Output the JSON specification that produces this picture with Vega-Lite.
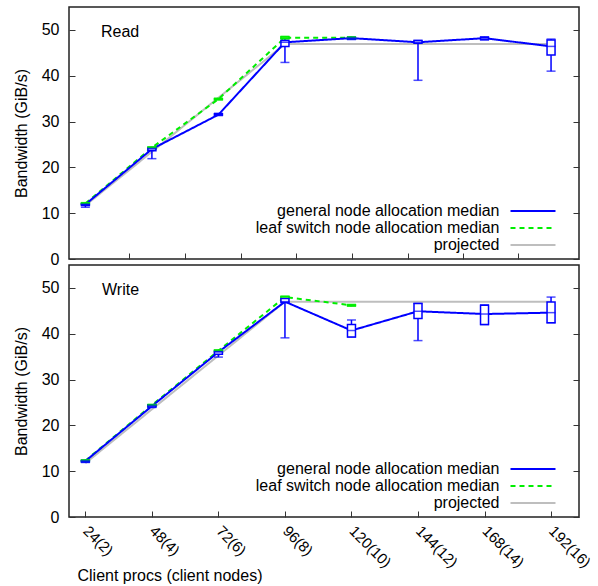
{
  "$schema": "https://vega.github.io/schema/vega-lite/v6.json",
  "padding": {"left": 12, "top": 6, "right": 2, "bottom": 2},
  "autosize": {"type": "pad"},
  "bounds": "flush",
  "spacing": 6,
  "config": {
    "font": "Liberation Sans",
    "view": {"stroke": "#222", "strokeWidth": 1.5},
    "axis": {"labelFontSize": 16, "titleFontSize": 16, "titleFontWeight": "normal", "labelColor": "#000", "titleColor": "#000", "tickColor": "#333", "domain": false, "grid": false, "labelFlush": false, "labelOverlap": false, "labelBound": false}
  },
  "datasets": {
    "rows": [
      {"p": "Read", "s": "projected", "x": 0, "med": 11.7},
      {"p": "Read", "s": "projected", "x": 1, "med": 23.4},
      {"p": "Read", "s": "projected", "x": 2, "med": 35.2},
      {"p": "Read", "s": "projected", "x": 3, "med": 46.9},
      {"p": "Read", "s": "projected", "x": 4, "med": 46.9},
      {"p": "Read", "s": "projected", "x": 5, "med": 46.9},
      {"p": "Read", "s": "projected", "x": 6, "med": 46.9},
      {"p": "Read", "s": "projected", "x": 7, "med": 46.9},
      {"p": "Read", "s": "leaf switch node allocation median", "x": 0, "lo": 11.9, "q1": 12.0, "med": 12.1, "q3": 12.2, "hi": 12.3},
      {"p": "Read", "s": "leaf switch node allocation median", "x": 1, "lo": 24.0, "q1": 24.1, "med": 24.3, "q3": 24.4, "hi": 24.5},
      {"p": "Read", "s": "leaf switch node allocation median", "x": 2, "lo": 34.7, "q1": 34.8, "med": 34.9, "q3": 35.0, "hi": 35.1},
      {"p": "Read", "s": "leaf switch node allocation median", "x": 3, "lo": 48.0, "q1": 48.1, "med": 48.3, "q3": 48.5, "hi": 48.6},
      {"p": "Read", "s": "leaf switch node allocation median", "x": 4, "lo": 48.0, "q1": 48.1, "med": 48.3, "q3": 48.4, "hi": 48.5},
      {"p": "Read", "s": "general node allocation median", "x": 0, "lo": 11.3, "q1": 11.7, "med": 11.9, "q3": 12.0, "hi": 12.1},
      {"p": "Read", "s": "general node allocation median", "x": 1, "lo": 21.9, "q1": 23.6, "med": 24.0, "q3": 24.2, "hi": 24.3},
      {"p": "Read", "s": "general node allocation median", "x": 2, "lo": 31.3, "q1": 31.4, "med": 31.5, "q3": 31.7, "hi": 31.8},
      {"p": "Read", "s": "general node allocation median", "x": 3, "lo": 42.9, "q1": 46.4, "med": 47.3, "q3": 47.7, "hi": 48.2},
      {"p": "Read", "s": "general node allocation median", "x": 4, "lo": 47.9, "q1": 48.0, "med": 48.2, "q3": 48.3, "hi": 48.4},
      {"p": "Read", "s": "general node allocation median", "x": 5, "lo": 39.0, "q1": 47.1, "med": 47.3, "q3": 47.7, "hi": 47.7},
      {"p": "Read", "s": "general node allocation median", "x": 6, "lo": 47.8, "q1": 47.9, "med": 48.2, "q3": 48.4, "hi": 48.5},
      {"p": "Read", "s": "general node allocation median", "x": 7, "lo": 41.0, "q1": 44.5, "med": 46.4, "q3": 47.8, "hi": 48.0},
      {"p": "Write", "s": "projected", "x": 0, "med": 11.75},
      {"p": "Write", "s": "projected", "x": 1, "med": 23.5},
      {"p": "Write", "s": "projected", "x": 2, "med": 35.25},
      {"p": "Write", "s": "projected", "x": 3, "med": 47.0},
      {"p": "Write", "s": "projected", "x": 4, "med": 47.0},
      {"p": "Write", "s": "projected", "x": 5, "med": 47.0},
      {"p": "Write", "s": "projected", "x": 6, "med": 47.0},
      {"p": "Write", "s": "projected", "x": 7, "med": 47.0},
      {"p": "Write", "s": "leaf switch node allocation median", "x": 0, "lo": 12.1, "q1": 12.2, "med": 12.3, "q3": 12.4, "hi": 12.5},
      {"p": "Write", "s": "leaf switch node allocation median", "x": 1, "lo": 24.2, "q1": 24.3, "med": 24.4, "q3": 24.5, "hi": 24.6},
      {"p": "Write", "s": "leaf switch node allocation median", "x": 2, "lo": 36.0, "q1": 36.1, "med": 36.3, "q3": 36.4, "hi": 36.5},
      {"p": "Write", "s": "leaf switch node allocation median", "x": 3, "lo": 47.6, "q1": 47.7, "med": 48.0, "q3": 48.1, "hi": 48.2},
      {"p": "Write", "s": "leaf switch node allocation median", "x": 4, "lo": 46.0, "q1": 46.1, "med": 46.2, "q3": 46.3, "hi": 46.4},
      {"p": "Write", "s": "general node allocation median", "x": 0, "lo": 11.9, "q1": 12.0, "med": 12.2, "q3": 12.3, "hi": 12.4},
      {"p": "Write", "s": "general node allocation median", "x": 1, "lo": 23.9, "q1": 24.0, "med": 24.2, "q3": 24.4, "hi": 24.5},
      {"p": "Write", "s": "general node allocation median", "x": 2, "lo": 34.9, "q1": 35.5, "med": 36.0, "q3": 36.2, "hi": 36.3},
      {"p": "Write", "s": "general node allocation median", "x": 3, "lo": 39.1, "q1": 46.8, "med": 47.0, "q3": 47.7, "hi": 48.0},
      {"p": "Write", "s": "general node allocation median", "x": 4, "lo": 39.3, "q1": 39.3, "med": 40.7, "q3": 42.0, "hi": 43.0},
      {"p": "Write", "s": "general node allocation median", "x": 5, "lo": 38.5, "q1": 43.3, "med": 44.9, "q3": 46.6, "hi": 46.6},
      {"p": "Write", "s": "general node allocation median", "x": 6, "lo": 42.0, "q1": 42.0, "med": 44.3, "q3": 46.2, "hi": 46.3},
      {"p": "Write", "s": "general node allocation median", "x": 7, "lo": 42.4, "q1": 42.4, "med": 44.6, "q3": 46.9, "hi": 48.0}
    ]
  },
  "resolve": {
    "scale": {"color": "independent", "strokeDash": "independent"},
    "legend": {"color": "independent", "strokeDash": "independent"}
  },
  "vconcat": [
    {
      "width": 510, "height": 252,
      "title": {"text": "Read", "anchor": "start", "frame": "group", "offset": -46, "dx": 32, "fontSize": 16, "fontWeight": "normal", "baseline": "alphabetic", "color": "#000"},
      "data": {"name": "rows"},
      "transform": [{"filter": "datum.p === 'Read'"}],
      "encoding": {
        "x": {"field": "x", "type": "quantitative", "scale": {"domain": [-0.171, 7.345], "nice": false, "zero": false},
          "axis": {"orient": "bottom", "values": [0.663, 1.499, 2.334, 3.168, 4.014, 4.848, 5.673, 6.509], "labels": false, "tickSize": -6, "title": null}}
      },
      "layer": [
        {"transform": [{"filter": "datum.s === 'projected'"}], "mark": {"type": "line", "strokeWidth": 2},
          "encoding": {
            "y": {"field": "med", "type": "quantitative", "scale": {"domain": [0, 55], "nice": false}, "axis": {"orient": "left", "title": "Bandwidth (GiB/s)", "values": [0, 10, 20, 30, 40, 50], "tickSize": -6, "labelPadding": 16, "titlePadding": 12}},
            "color": {"field": "s", "type": "nominal", "scale": {"domain": ["general node allocation median", "leaf switch node allocation median", "projected"], "range": ["#0000ff", "#00ee00", "#bebebe"]},
              "legend": {"orient": "none", "legendX": 456, "legendY": 196, "title": null, "symbolType": "M-4.5,0H4.5", "symbolSize": 100, "symbolStrokeWidth": 2, "labelAlign": "right", "labelOffset": -41.5, "labelFontSize": 16, "labelLimit": 400, "labelColor": "#000", "rowPadding": 1, "padding": 0}},
            "strokeDash": {"field": "s", "type": "nominal", "scale": {"domain": ["general node allocation median", "leaf switch node allocation median", "projected"], "range": [[1, 0], [5, 4], [1, 0]]},
              "legend": {"orient": "none", "legendX": 456, "legendY": 196, "title": null, "symbolType": "M-4.5,0H4.5", "symbolSize": 100, "symbolStrokeWidth": 2, "labelAlign": "right", "labelOffset": -41.5, "labelFontSize": 16, "labelLimit": 400, "labelColor": "#000", "rowPadding": 1, "padding": 0}}
          }},
        {"transform": [{"filter": "datum.s === 'leaf switch node allocation median'"}], "mark": {"type": "line", "strokeWidth": 2},
          "encoding": {
            "y": {"field": "med", "type": "quantitative", "scale": {"domain": [0, 55], "nice": false}, "axis": null},
            "color": {"field": "s", "type": "nominal", "scale": {"domain": ["general node allocation median", "leaf switch node allocation median", "projected"], "range": ["#0000ff", "#00ee00", "#bebebe"]}},
            "strokeDash": {"field": "s", "type": "nominal", "scale": {"domain": ["general node allocation median", "leaf switch node allocation median", "projected"], "range": [[1, 0], [5, 4], [1, 0]]}}
          }},
        {"transform": [{"filter": "datum.s === 'general node allocation median'"}], "mark": {"type": "line", "strokeWidth": 2},
          "encoding": {
            "y": {"field": "med", "type": "quantitative", "scale": {"domain": [0, 55], "nice": false}, "axis": {"orient": "right", "labels": false, "title": null, "values": [0, 10, 20, 30, 40, 50], "tickSize": -6}},
            "color": {"field": "s", "type": "nominal", "scale": {"domain": ["general node allocation median", "leaf switch node allocation median", "projected"], "range": ["#0000ff", "#00ee00", "#bebebe"]}},
            "strokeDash": {"field": "s", "type": "nominal", "scale": {"domain": ["general node allocation median", "leaf switch node allocation median", "projected"], "range": [[1, 0], [5, 4], [1, 0]]}}
          }},
        {"transform": [{"filter": "datum.s !== 'projected'"}], "mark": {"type": "rule", "strokeWidth": 1.5},
          "encoding": {
            "y": {"field": "lo", "type": "quantitative", "scale": {"domain": [0, 55], "nice": false}, "axis": null},
            "y2": {"field": "hi"},
            "stroke": {"field": "s", "type": "nominal", "scale": {"domain": ["general node allocation median", "leaf switch node allocation median"], "range": ["#0000ff", "#00ee00"]}, "legend": null}
          }},
        {"transform": [{"filter": "datum.s !== 'projected'"}], "mark": {"type": "tick", "orient": "horizontal", "size": 9, "thickness": 1.5},
          "encoding": {
            "y": {"field": "lo", "type": "quantitative", "scale": {"domain": [0, 55], "nice": false}, "axis": null},
            "fill": {"field": "s", "type": "nominal", "scale": {"domain": ["general node allocation median", "leaf switch node allocation median"], "range": ["#0000ff", "#00ee00"]}, "legend": null}
          }},
        {"transform": [{"filter": "datum.s !== 'projected'"}], "mark": {"type": "tick", "orient": "horizontal", "size": 9, "thickness": 1.5},
          "encoding": {
            "y": {"field": "hi", "type": "quantitative", "scale": {"domain": [0, 55], "nice": false}, "axis": null},
            "fill": {"field": "s", "type": "nominal", "scale": {"domain": ["general node allocation median", "leaf switch node allocation median"], "range": ["#0000ff", "#00ee00"]}, "legend": null}
          }},
        {"transform": [{"filter": "datum.s !== 'projected'"}], "mark": {"type": "bar", "size": 8, "fill": "white", "strokeWidth": 1.5},
          "encoding": {
            "y": {"field": "q1", "type": "quantitative", "scale": {"domain": [0, 55], "nice": false}, "axis": null},
            "y2": {"field": "q3"},
            "stroke": {"field": "s", "type": "nominal", "scale": {"domain": ["general node allocation median", "leaf switch node allocation median"], "range": ["#0000ff", "#00ee00"]}, "legend": null}
          }},
        {"transform": [{"filter": "datum.s !== 'projected'"}], "mark": {"type": "tick", "orient": "horizontal", "size": 9, "thickness": 1.5},
          "encoding": {
            "y": {"field": "med", "type": "quantitative", "scale": {"domain": [0, 55], "nice": false}, "axis": null},
            "fill": {"field": "s", "type": "nominal", "scale": {"domain": ["general node allocation median", "leaf switch node allocation median"], "range": ["#0000ff", "#00ee00"]}, "legend": null}
          }}
      ]
    },
    {
      "width": 510, "height": 252,
      "title": {"text": "Write", "anchor": "start", "frame": "group", "offset": -46, "dx": 33, "fontSize": 16, "fontWeight": "normal", "baseline": "alphabetic", "color": "#000"},
      "data": {"name": "rows"},
      "transform": [{"filter": "datum.p === 'Write'"}],
      "encoding": {
        "x": {"field": "x", "type": "quantitative", "scale": {"domain": [-0.171, 7.345], "nice": false, "zero": false},
          "axis": {"orient": "bottom", "values": [0, 1, 2, 3, 4, 5, 6, 7], "labelExpr": "['24(2)','48(4)','72(6)','96(8)','120(10)','144(12)','168(14)','192(16)'][datum.value]", "labelAngle": 45, "labelAlign": "left", "labelBaseline": "middle", "labelFontSize": 15, "labelDx": -3, "tickSize": -6, "labelPadding": 17, "title": "Client procs (client nodes)", "titleX": 8, "titleY": 58, "titleAlign": "left", "titleAnchor": "start", "titleBaseline": "middle", "titleAngle": 0}}
      },
      "layer": [
        {"transform": [{"filter": "datum.s === 'projected'"}], "mark": {"type": "line", "strokeWidth": 2},
          "encoding": {
            "y": {"field": "med", "type": "quantitative", "scale": {"domain": [0, 55], "nice": false}, "axis": {"orient": "left", "title": "Bandwidth (GiB/s)", "values": [0, 10, 20, 30, 40, 50], "tickSize": -6, "labelPadding": 16, "titlePadding": 12}},
            "color": {"field": "s", "type": "nominal", "scale": {"domain": ["general node allocation median", "leaf switch node allocation median", "projected"], "range": ["#0000ff", "#00ee00", "#bebebe"]},
              "legend": {"orient": "none", "legendX": 456, "legendY": 196, "title": null, "symbolType": "M-4.5,0H4.5", "symbolSize": 100, "symbolStrokeWidth": 2, "labelAlign": "right", "labelOffset": -41.5, "labelFontSize": 16, "labelLimit": 400, "labelColor": "#000", "rowPadding": 1, "padding": 0}},
            "strokeDash": {"field": "s", "type": "nominal", "scale": {"domain": ["general node allocation median", "leaf switch node allocation median", "projected"], "range": [[1, 0], [5, 4], [1, 0]]},
              "legend": {"orient": "none", "legendX": 456, "legendY": 196, "title": null, "symbolType": "M-4.5,0H4.5", "symbolSize": 100, "symbolStrokeWidth": 2, "labelAlign": "right", "labelOffset": -41.5, "labelFontSize": 16, "labelLimit": 400, "labelColor": "#000", "rowPadding": 1, "padding": 0}}
          }},
        {"transform": [{"filter": "datum.s === 'leaf switch node allocation median'"}], "mark": {"type": "line", "strokeWidth": 2},
          "encoding": {
            "y": {"field": "med", "type": "quantitative", "scale": {"domain": [0, 55], "nice": false}, "axis": null},
            "color": {"field": "s", "type": "nominal", "scale": {"domain": ["general node allocation median", "leaf switch node allocation median", "projected"], "range": ["#0000ff", "#00ee00", "#bebebe"]}},
            "strokeDash": {"field": "s", "type": "nominal", "scale": {"domain": ["general node allocation median", "leaf switch node allocation median", "projected"], "range": [[1, 0], [5, 4], [1, 0]]}}
          }},
        {"transform": [{"filter": "datum.s === 'general node allocation median'"}], "mark": {"type": "line", "strokeWidth": 2},
          "encoding": {
            "y": {"field": "med", "type": "quantitative", "scale": {"domain": [0, 55], "nice": false}, "axis": {"orient": "right", "labels": false, "title": null, "values": [0, 10, 20, 30, 40, 50], "tickSize": -6}},
            "color": {"field": "s", "type": "nominal", "scale": {"domain": ["general node allocation median", "leaf switch node allocation median", "projected"], "range": ["#0000ff", "#00ee00", "#bebebe"]}},
            "strokeDash": {"field": "s", "type": "nominal", "scale": {"domain": ["general node allocation median", "leaf switch node allocation median", "projected"], "range": [[1, 0], [5, 4], [1, 0]]}}
          }},
        {"transform": [{"filter": "datum.s !== 'projected'"}], "mark": {"type": "rule", "strokeWidth": 1.5},
          "encoding": {
            "y": {"field": "lo", "type": "quantitative", "scale": {"domain": [0, 55], "nice": false}, "axis": null},
            "y2": {"field": "hi"},
            "stroke": {"field": "s", "type": "nominal", "scale": {"domain": ["general node allocation median", "leaf switch node allocation median"], "range": ["#0000ff", "#00ee00"]}, "legend": null}
          }},
        {"transform": [{"filter": "datum.s !== 'projected'"}], "mark": {"type": "tick", "orient": "horizontal", "size": 9, "thickness": 1.5},
          "encoding": {
            "y": {"field": "lo", "type": "quantitative", "scale": {"domain": [0, 55], "nice": false}, "axis": null},
            "fill": {"field": "s", "type": "nominal", "scale": {"domain": ["general node allocation median", "leaf switch node allocation median"], "range": ["#0000ff", "#00ee00"]}, "legend": null}
          }},
        {"transform": [{"filter": "datum.s !== 'projected'"}], "mark": {"type": "tick", "orient": "horizontal", "size": 9, "thickness": 1.5},
          "encoding": {
            "y": {"field": "hi", "type": "quantitative", "scale": {"domain": [0, 55], "nice": false}, "axis": null},
            "fill": {"field": "s", "type": "nominal", "scale": {"domain": ["general node allocation median", "leaf switch node allocation median"], "range": ["#0000ff", "#00ee00"]}, "legend": null}
          }},
        {"transform": [{"filter": "datum.s !== 'projected'"}], "mark": {"type": "bar", "size": 8, "fill": "white", "strokeWidth": 1.5},
          "encoding": {
            "y": {"field": "q1", "type": "quantitative", "scale": {"domain": [0, 55], "nice": false}, "axis": null},
            "y2": {"field": "q3"},
            "stroke": {"field": "s", "type": "nominal", "scale": {"domain": ["general node allocation median", "leaf switch node allocation median"], "range": ["#0000ff", "#00ee00"]}, "legend": null}
          }},
        {"transform": [{"filter": "datum.s !== 'projected'"}], "mark": {"type": "tick", "orient": "horizontal", "size": 9, "thickness": 1.5},
          "encoding": {
            "y": {"field": "med", "type": "quantitative", "scale": {"domain": [0, 55], "nice": false}, "axis": null},
            "fill": {"field": "s", "type": "nominal", "scale": {"domain": ["general node allocation median", "leaf switch node allocation median"], "range": ["#0000ff", "#00ee00"]}, "legend": null}
          }}
      ]
    }
  ]
}
